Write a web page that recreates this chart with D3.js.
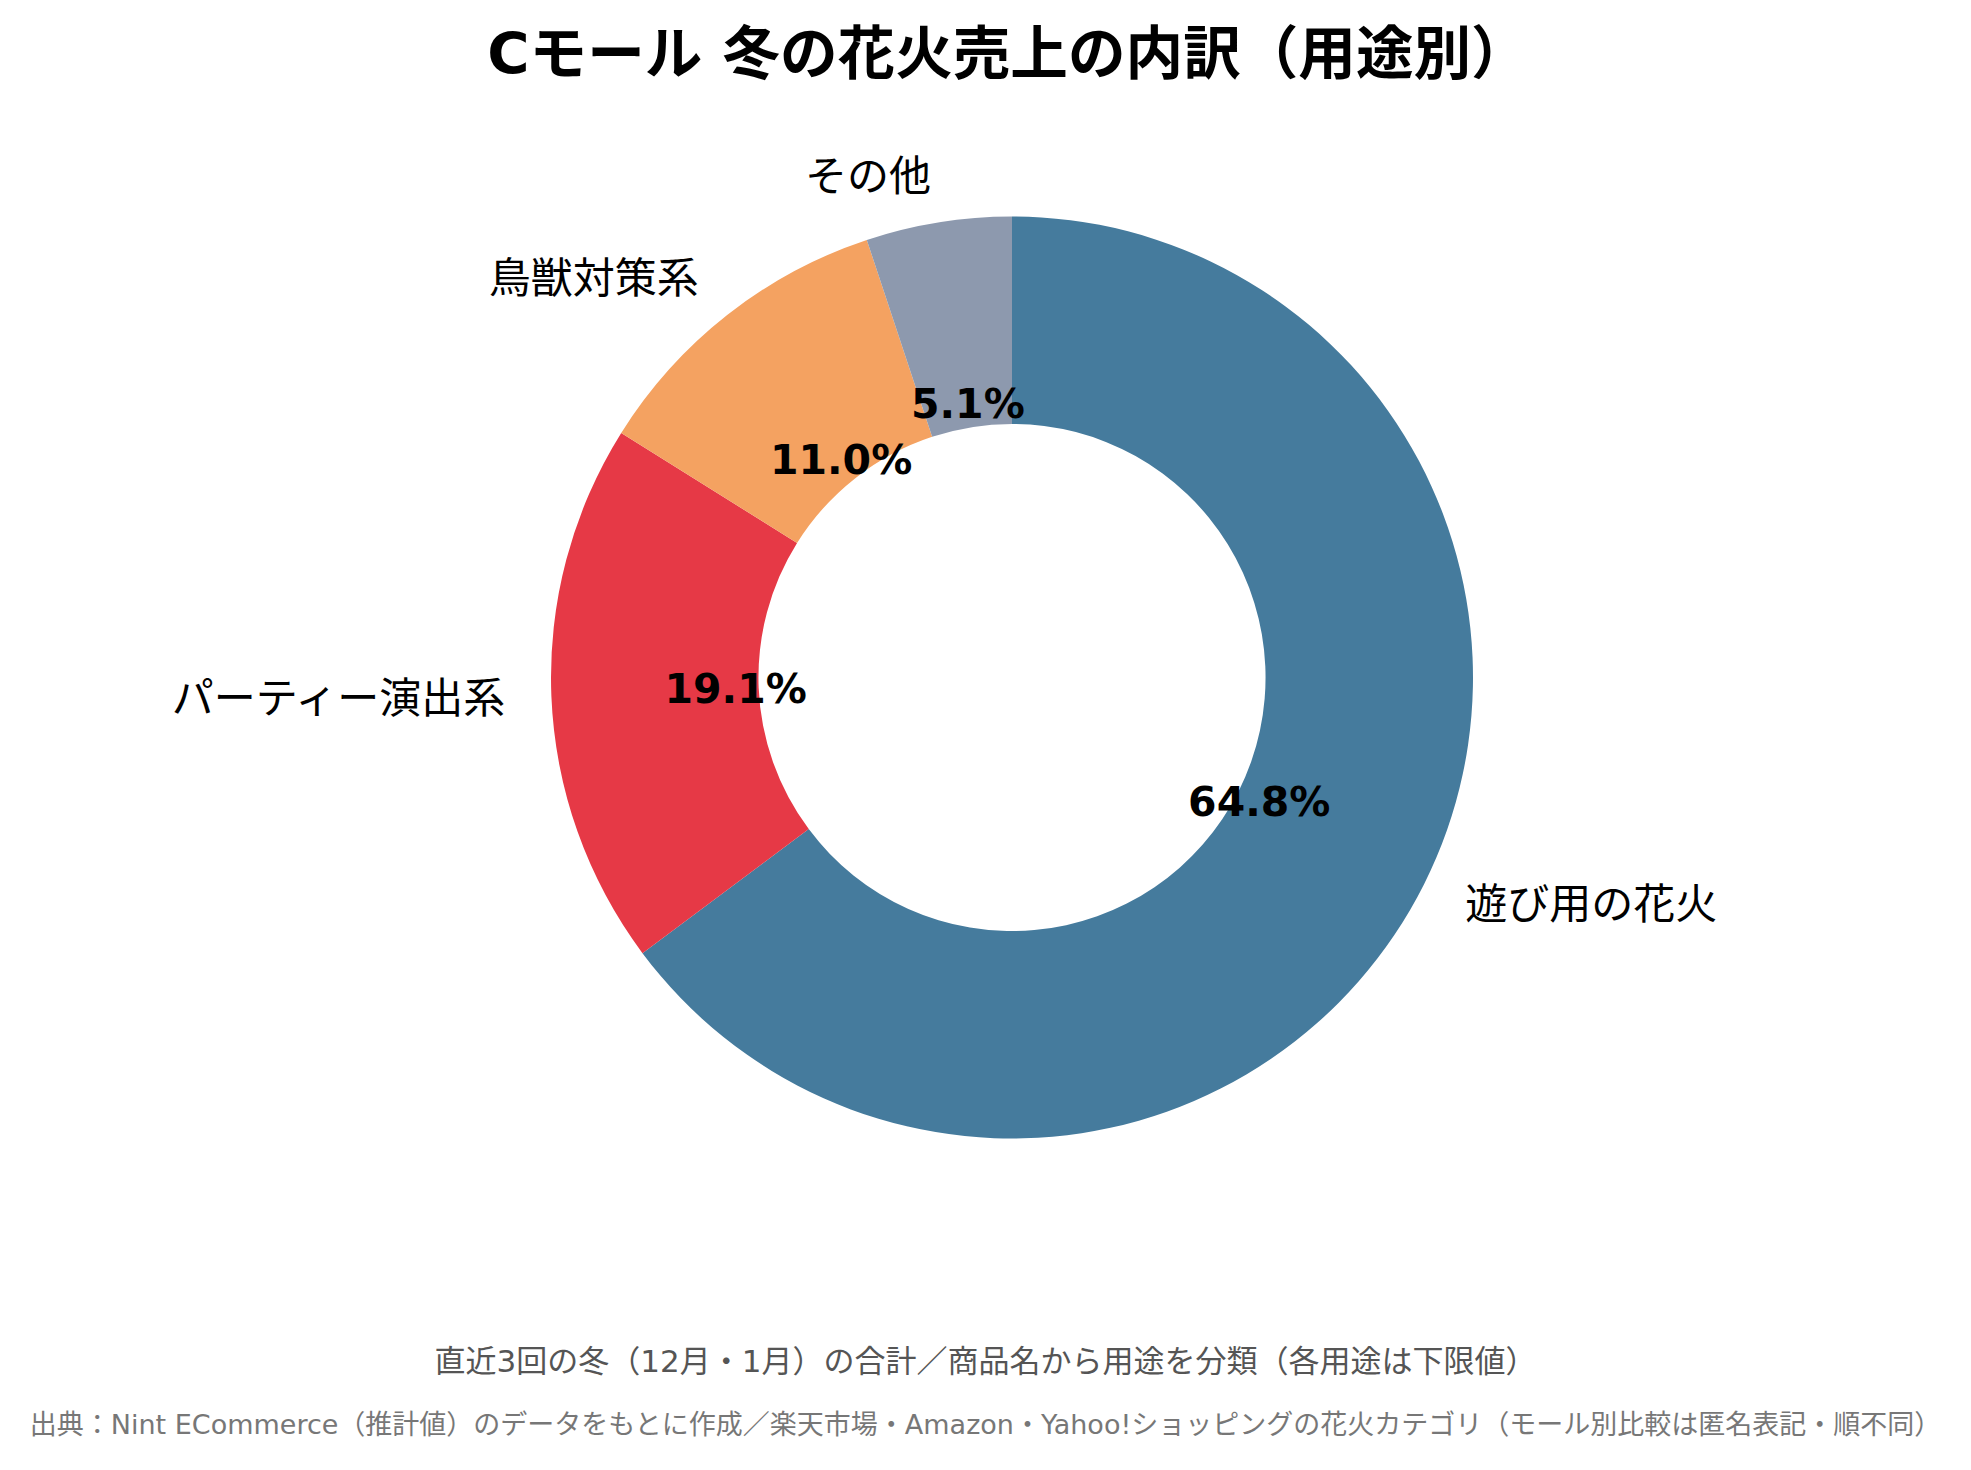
<!DOCTYPE html>
<html><head><meta charset="utf-8">
<script src="https://cdn.jsdelivr.net/npm/d3@7"></script>
<style>
html,body{margin:0;padding:0;background:#fff;}
svg{display:block;font-family:"DejaVu Sans","Noto Sans CJK JP",sans-serif;}
</style></head>
<body>
<script>
const categories = ["遊び用の花火", "パーティー演出系", "鳥獣対策系", "その他"];
const values = [64.8, 19.1, 11.0, 5.1];
const colors = ["#457B9D", "#E63946", "#F4A261", "#8D99AE"];
const titleText = "Cモール 冬の花火売上の内訳（用途別）";
const note1 = "直近3回の冬（12月・1月）の合計／商品名から用途を分類（各用途は下限値）";
const note2 = "出典：Nint ECommerce（推計値）のデータをもとに作成／楽天市場・Amazon・Yahoo!ショッピングの花火カテゴリ（モール別比較は匿名表記・順不同）";

const W = 1971, H = 1470;
const cx = 1012, cy = 677.5, R = 461, r = 0.55 * R;

const svg = d3.select("body").append("svg").attr("width", W).attr("height", H);

svg.append("text").attr("x", 1008).attr("y", 54)
  .attr("text-anchor", "middle").attr("dominant-baseline", "central")
  .attr("font-size", 57.6).attr("font-weight", "bold").attr("fill", "#000")
  .text(titleText);

const data = categories.map((c, i) => ({cat: c, value: values[i], color: colors[i]}));
const pie = d3.pie().value(d => d.value).sort(null).startAngle(0).endAngle(2*Math.PI);
const arcs = pie(data);
const arc = d3.arc().innerRadius(r).outerRadius(R);

const g = svg.append("g").attr("transform", `translate(${cx},${cy})`);
g.selectAll("path.slice").data(arcs).join("path").attr("class", "slice")
  .attr("d", arc).attr("fill", d => d.data.color);

const pctArc = d3.arc().innerRadius(0.6 * R).outerRadius(0.6 * R);
g.selectAll("text.pct").data(arcs).join("text").attr("class", "pct")
  .attr("transform", d => `translate(${pctArc.centroid(d)})`)
  .attr("text-anchor", "middle").attr("dominant-baseline", "central")
  .attr("font-size", 41).attr("font-weight", "bold").attr("fill", "#000")
  .text(d => d.data.value.toFixed(1) + "%");

const labArc = d3.arc().innerRadius(1.1 * R).outerRadius(1.1 * R);
g.selectAll("text.lab").data(arcs).join("text").attr("class", "lab")
  .attr("transform", d => `translate(${labArc.centroid(d)})`)
  .attr("text-anchor", d => labArc.centroid(d)[0] >= 0 ? "start" : "end")
  .attr("dominant-baseline", "central")
  .attr("font-size", 42).attr("fill", "#000")
  .text(d => d.data.cat);

svg.append("text").attr("x", W/2).attr("y", 1361)
  .attr("text-anchor", "middle").attr("dominant-baseline", "central")
  .attr("font-size", 31).attr("fill", "#555").text(note1);
svg.append("text").attr("x", W/2).attr("y", 1424)
  .attr("text-anchor", "middle").attr("dominant-baseline", "central")
  .attr("font-size", 27).attr("fill", "#777").text(note2);
</script>
</body></html>
